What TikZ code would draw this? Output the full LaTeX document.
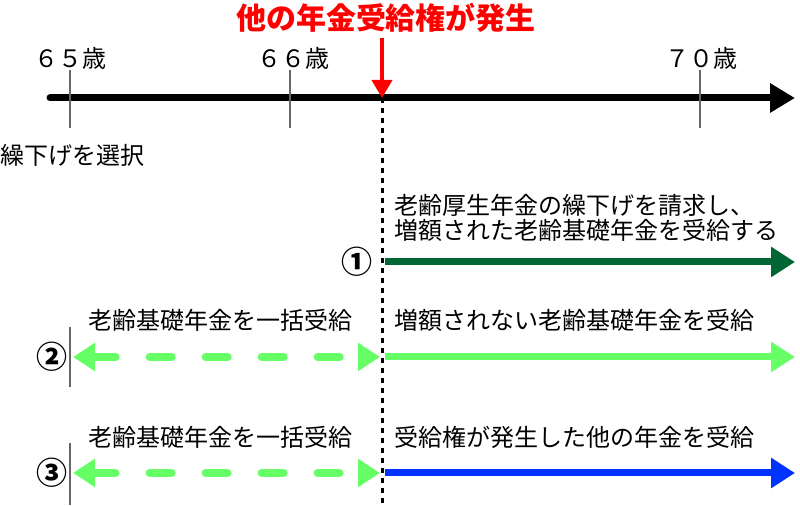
\documentclass[tikz,border=0pt]{standalone}
\usepackage{fontspec}
\setmainfont{Noto Sans CJK JP}
\usepackage{xcolor}
\usepackage{tikz}
\usetikzlibrary{arrows.meta,positioning}

\definecolor{eventred}{RGB}{255,0,0}
\definecolor{deepgreen}{RGB}{0,102,51}
\definecolor{lightgreen}{RGB}{102,255,102}
\definecolor{paceblue}{RGB}{0,51,255}

\begin{document}
\begin{tikzpicture}[x=0.5pt, y=-0.5pt,
    txt/.style={font=\fontsize{12}{12.5}\selectfont, inner sep=0pt},
    num/.style={font=\fontsize{15.5}{15.5}\selectfont\bfseries, inner sep=0pt},
    agetick/.style={draw=black!60, line width=1pt},
    timeline/.style={line width=3.5pt, line cap=round, -{Triangle[length=12.5pt, width=14pt]}},
    flow/.style={line width=3.5pt, -{Triangle[length=12pt, width=14.5pt]}},
    lump/.style={lightgreen, line width=4pt, line cap=round, dash pattern=on 11pt off 17pt,
        {Triangle[length=11pt, width=13.5pt]}-{Triangle[length=11pt, width=13.5pt]}}
]
    \useasboundingbox (0,0) rectangle (800,506);

    % time axis
    \coordinate (axisstart) at (50,98);
    \coordinate (axisend) at (795,98);
    \coordinate (t65) at (70,98);
    \coordinate (t66) at (290,98);
    \coordinate (t70) at (700,98);
    \coordinate (event) at (382,98);
    \coordinate (eventtop) at (382,38);
    \coordinate (floor) at (382,506);
    \draw[timeline] (axisstart) -- (axisend);
    \draw[agetick] ([yshift=14pt]t65) -- ([yshift=-15pt]t65);
    \draw[agetick] ([yshift=14pt]t66) -- ([yshift=-15pt]t66);
    \draw[agetick] ([yshift=14pt]t70) -- ([yshift=-15pt]t70);
    \node[txt] (age65) at (70,58) {６５歳};
    \node[txt] (age66) at (293,58) {６６歳};
    \node[txt] (age70) at (701,58) {７０歳};
    \node[txt, anchor=west] (defer) at (0,155) {繰下げを選択};

    \node[font=\fontsize{15}{15}\selectfont\bfseries, text=eventred, inner sep=0pt] (title) at (386,18) {他の年金受給権が発生};
    \draw[eventred, line width=2pt, -{Triangle[length=9pt, width=10pt]}] (eventtop) -- (event);
    \draw[line width=1.5pt, dash pattern=on 2.5pt off 2.5pt] (event) -- (floor);

    % case 1
    \coordinate (r1start) at (385,262);
    \coordinate (r1end) at (795,262);
    \node[num, anchor=east] (one) at (373,262) {①};
    \node[txt, anchor=west, align=left] (plan1) at (394,218) {老齢厚生年金の繰下げを請求し、\\増額された老齢基礎年金を受給する};
    \draw[flow, deepgreen] (r1start) -- (r1end);

    % case 2
    \coordinate (r2bar) at (70,357);
    \coordinate (r2left) at (73,357);
    \coordinate (r2cut) at (380,357);
    \coordinate (r2start) at (385,357);
    \coordinate (r2end) at (795,357);
    \draw[agetick] ([yshift=15pt]r2bar) -- ([yshift=-15pt]r2bar);
    \node[num, anchor=east] (two) at (68,357) {②};
    \node[txt] (lump2) at (221,320) {老齢基礎年金を一括受給};
    \node[txt, anchor=west] (plan2) at (394,320) {増額されない老齢基礎年金を受給};
    \draw[lump] (r2left) -- (r2cut);
    \draw[flow, lightgreen] (r2start) -- (r2end);

    % case 3
    \coordinate (r3bar) at (70,474);
    \coordinate (r3left) at (73,473);
    \coordinate (r3cut) at (380,473);
    \coordinate (r3start) at (385,473);
    \coordinate (r3end) at (795,473);
    \draw[agetick] ([yshift=15.5pt]r3bar) -- ([yshift=-15.5pt]r3bar);
    \node[num, anchor=east] (three) at (68,473) {③};
    \node[txt] (lump3) at (221,437) {老齢基礎年金を一括受給};
    \node[txt, anchor=west] (plan3) at (394,437) {受給権が発生した他の年金を受給};
    \draw[lump] (r3left) -- (r3cut);
    \draw[flow, paceblue] (r3start) -- (r3end);
\end{tikzpicture}
\end{document}
